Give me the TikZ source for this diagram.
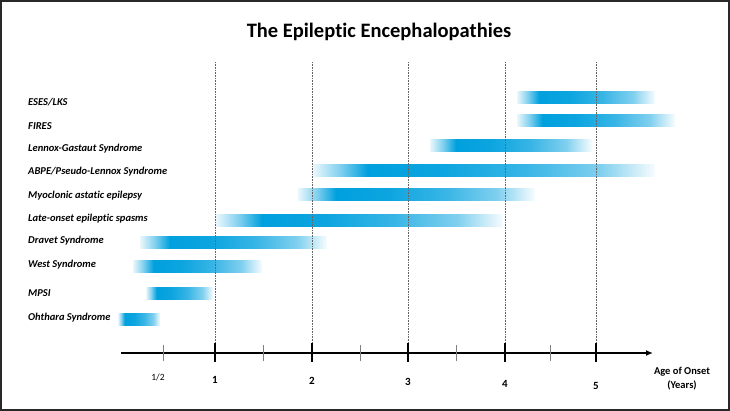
\documentclass[tikz,border=0pt]{standalone}
\usepackage{fontspec}
\setmainfont[Ligatures=NoCommon]{Carlito}
\usetikzlibrary{arrows.meta}
\definecolor{barblue}{RGB}{0,160,222}
\definecolor{framegray}{RGB}{40,40,40}
\pgfdeclarehorizontalshading{onsetbar}{100bp}{color(0bp)=(barblue!8); color(25bp)=(barblue!8); color(29bp)=(barblue!50); color(33bp)=(barblue); color(44bp)=(barblue!95); color(56bp)=(barblue!78); color(67bp)=(barblue!50); color(75bp)=(barblue!3); color(100bp)=(barblue!3)}

\begin{document}
\begin{tikzpicture}[x=1pt, y=-1pt,
    disease/.style={font=\bfseries\itshape\fontsize{10.5}{12}\selectfont, anchor=west, inner sep=0pt},
    yearlabel/.style={font=\bfseries\fontsize{11}{13}\selectfont},
    guide/.style={densely dotted, gray!80!black, line width=0.6pt},
    majortick/.style={line width=2.2pt},
    minortick/.style={gray, line width=0.8pt}]
    \useasboundingbox (0,0) rectangle (730,411);
    \draw[framegray, line width=2pt] (1,1) rectangle (729,410);

    % Titel
    \node[font=\bfseries\fontsize{20.5}{24}\selectfont] (title) at (379,32) {The Epileptic Encephalopathies};

    % Syndrome und Balken
    \foreach \name/\ly/\by/\from/\to/\txt in {
        eses/102/98/517/655/{ESES/LKS},
        fires/126/121/517/675/{FIRES},
        lgs/149/146/430/592/{Lennox-Gastaut Syndrome},
        abpe/172/171/313/655/{ABPE/Pseudo-Lennox Syndrome},
        mae/196/195/298/535/{Myoclonic astatic epilepsy},
        loes/219/221/216/503/{Late-onset epileptic spasms},
        dravet/241/243/140/327/{Dravet Syndrome},
        west/265/267/133/262/{West Syndrome},
        mpsi/293/294/146/213/{MPSI},
        ohtahara/318/319/118/160/{Ohthara Syndrome}} {
        \node[disease] (\name) at (28,\ly) {\txt};
        \shade[shading=onsetbar] (\from,\by-6) rectangle (\to,\by+6);
    }

    % Achse
    \coordinate (axisstart) at (121,353);
    \coordinate (axisend) at (653,353);
    \draw[line width=1.8pt, -{Latex[length=7pt,width=6pt]}] (axisstart) -- (axisend);
    \foreach \x in {163,263,360,456,550}
        \draw[minortick] (\x,345) -- (\x,361);
    \foreach \x/\n/\ly in {215/1/380, 312/2/381, 408/3/382, 505/4/384, 596/5/386} {
        \draw[guide] (\x,62) -- (\x,343);
        \draw[majortick] (\x,343) -- (\x,362);
        \node[yearlabel] (year\n) at (\x,\ly) {\n};
    }
    \node[font=\fontsize{9.5}{11}\selectfont] (half) at (158,377) {1/2};
    \node[yearlabel, font=\bfseries\fontsize{10.5}{14}\selectfont, align=center, anchor=north] (onset) at (682,364) {Age of Onset\\(Years)};
\end{tikzpicture}
\end{document}
